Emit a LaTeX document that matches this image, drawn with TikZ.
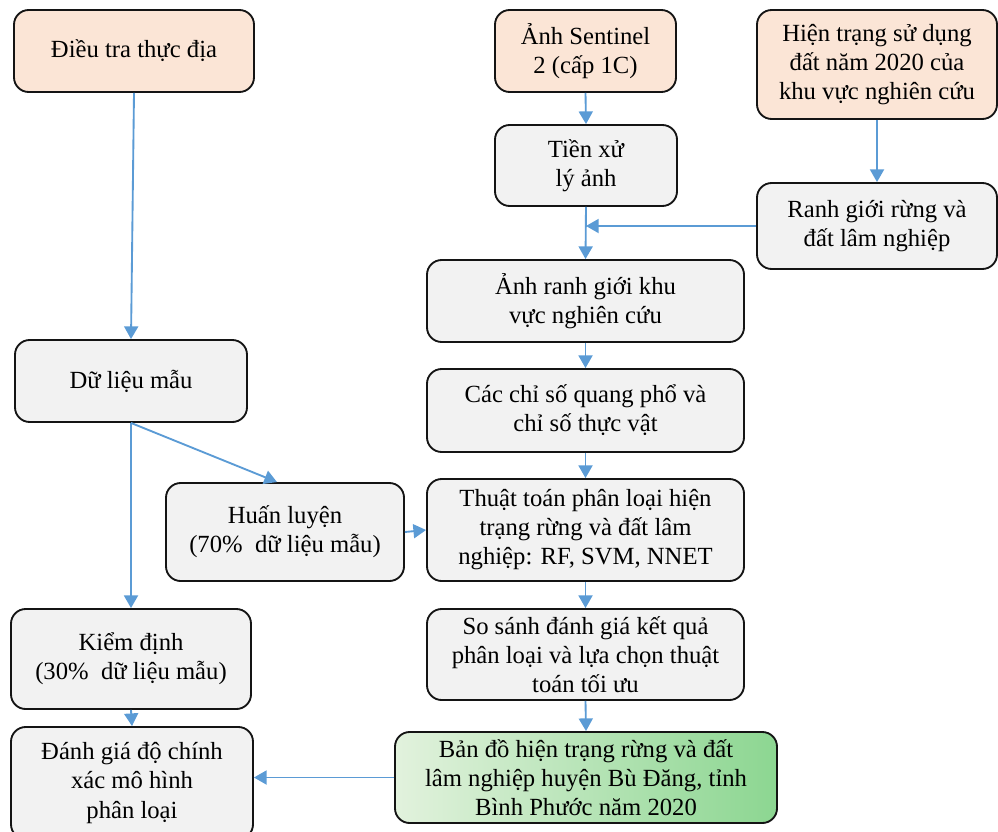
\documentclass[tikz,border=0pt]{standalone}
\usepackage{fontspec}
\setmainfont{Liberation Serif}
\usetikzlibrary{arrows.meta}
\definecolor{peach}{RGB}{251,229,214}
\definecolor{greyfill}{RGB}{242,242,242}
\definecolor{arrowblue}{RGB}{91,155,213}
\definecolor{edge}{RGB}{20,20,20}
\definecolor{glight}{RGB}{226,242,221}
\definecolor{gdark}{RGB}{140,214,145}
\tikzset{
  box/.style={draw=edge, line width=1.4pt, rounded corners=11pt, align=center,
    font=\fontsize{18.5}{21.8}\selectfont, inner sep=1pt},
  peachbox/.style={box, fill=peach},
  greybox/.style={box, fill=greyfill},
  greenbox/.style={box, left color=glight, right color=gdark},
  arr/.style={draw=arrowblue, line width=1.4pt, -{Triangle[width=10.5pt,length=9.5pt]}},
}
\newcommand\bx[7]{\node[#6, minimum width={(#4-#2)*0.75pt}, minimum height={(#5-#3)*0.75pt}] (#1) at ({(#2+#4)/2},{(#3+#5)/2}) {#7};}
\begin{document}
\begin{tikzpicture}[x=0.75pt,y=-0.75pt]
\useasboundingbox (0,0) rectangle (998,831);
\bx{dieutra}{14}{10}{254}{92}{peachbox}{Điều tra thực địa}
\bx{sentinel}{495}{10}{676}{92}{peachbox}{Ảnh Sentinel\\2 (cấp 1C)}
\bx{hientrang}{757}{10}{997}{119}{peachbox}{Hiện trạng sử dụng\\đất năm 2020 của\\khu vực nghiên cứu}
\bx{tienxuly}{495}{125}{677}{206}{greybox}{Tiền xử\\lý ảnh}
\bx{ranhgioi}{757}{183}{997}{269}{greybox}{Ranh giới rừng và\\đất lâm nghiệp}
\bx{anhranh}{427}{260}{744}{342}{greybox}{Ảnh ranh giới khu\\vực nghiên cứu}
\bx{chiso}{427}{369}{744}{452}{greybox}{Các chỉ số quang phổ và\\chỉ số thực vật}
\bx{dulieu}{15}{340}{247}{422}{greybox}{Dữ liệu mẫu}
\bx{huanluyen}{166}{483}{404}{581}{greybox}{Huấn luyện\\(70\%\ \ dữ liệu mẫu)}
\bx{thuattoan}{427}{479}{744}{581}{greybox}{Thuật toán phân loại hiện\\trạng rừng và đất lâm\\nghiệp: RF,\ SVM,\ NNET}
\bx{kiemdinh}{11}{609}{251}{709}{greybox}{Kiểm định\\(30\%\ \ dữ liệu mẫu)}
\bx{sosanh}{427}{609}{744}{700}{greybox}{So sánh đánh giá kết quả\\phân loại và lựa chọn thuật\\toán tối ưu}
\bx{bando}{395}{732}{777}{823}{greenbox}{Bản đồ hiện trạng rừng và đất\\lâm nghiệp huyện Bù Đăng, tỉnh\\Bình Phước năm 2020}
\bx{danhgia}{11}{727}{253}{839}{greybox}{Đánh giá độ chính\\xác mô hình\\phân loại}
% connectors
\draw[arr] (dieutra.south) -- (dulieu.north);
\draw[arr] (dulieu.south) -- ([xshift=-6pt]huanluyen.north);
\draw[arr] (dulieu.south) -- (kiemdinh.north);
\draw[arr] (kiemdinh.south) -- (danhgia.north);
\draw[arr] (huanluyen.east) -- (thuattoan.west);
\draw[arr] (sentinel.south) -- (tienxuly.north);
\draw[arr] (tienxuly.south) -- (anhranh.north);
\draw[arr] (hientrang.south) -- (ranhgioi.north);
\coordinate (join) at (tienxuly.south |- ranhgioi.west);
\draw[arr] (ranhgioi.west) -- (join);
\draw[arr] (anhranh.south) -- (chiso.north);
\draw[arr] (chiso.south) -- (thuattoan.north);
\draw[arr] (thuattoan.south) -- (sosanh.north);
\draw[arr] (sosanh.south) -- (bando.north);
\coordinate (dgin) at (bando.west -| danhgia.east);
\draw[arr] (bando.west) -- (dgin);
\end{tikzpicture}
\end{document}
